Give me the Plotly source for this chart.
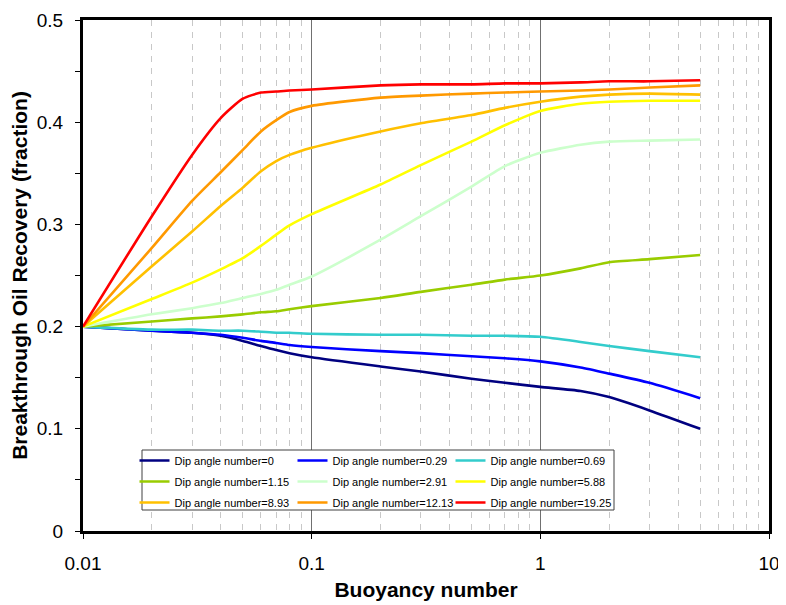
import plotly.graph_objects as go

buoyancy = [0.01, 0.02, 0.03, 0.04, 0.05, 0.06, 0.07, 0.08, 0.1, 0.2, 0.3, 0.5, 0.7, 1, 1.5, 2, 3, 5]

dip_labels = ["Dip angle number=0", "Dip angle number=0.29", "Dip angle number=0.69",
              "Dip angle number=1.15", "Dip angle number=2.91", "Dip angle number=5.88",
              "Dip angle number=8.93", "Dip angle number=12.13", "Dip angle number=19.25"]

rec_0 = [0.200, 0.196, 0.194, 0.191, 0.186, 0.181, 0.177, 0.174, 0.170, 0.161, 0.156, 0.149, 0.145, 0.141, 0.137, 0.131, 0.118, 0.100]
rec_029 = [0.200, 0.196, 0.194, 0.192, 0.189, 0.186, 0.184, 0.182, 0.180, 0.176, 0.174, 0.171, 0.169, 0.166, 0.160, 0.154, 0.145, 0.130]
rec_069 = [0.200, 0.197, 0.197, 0.196, 0.196, 0.195, 0.194, 0.194, 0.193, 0.192, 0.192, 0.191, 0.191, 0.190, 0.185, 0.181, 0.176, 0.170]
rec_115 = [0.200, 0.205, 0.208, 0.210, 0.212, 0.214, 0.215, 0.217, 0.220, 0.228, 0.234, 0.241, 0.246, 0.250, 0.257, 0.263, 0.266, 0.270]
rec_291 = [0.200, 0.212, 0.218, 0.223, 0.228, 0.232, 0.236, 0.241, 0.249, 0.285, 0.308, 0.337, 0.357, 0.370, 0.378, 0.381, 0.382, 0.383]
rec_588 = [0.200, 0.227, 0.243, 0.256, 0.267, 0.279, 0.290, 0.299, 0.310, 0.339, 0.358, 0.381, 0.397, 0.411, 0.418, 0.420, 0.421, 0.421]
rec_893 = [0.200, 0.259, 0.293, 0.318, 0.336, 0.352, 0.362, 0.368, 0.375, 0.391, 0.399, 0.407, 0.414, 0.420, 0.425, 0.427, 0.428, 0.427]
rec_1213 = [0.200, 0.277, 0.323, 0.351, 0.373, 0.391, 0.402, 0.410, 0.416, 0.424, 0.426, 0.428, 0.429, 0.430, 0.431, 0.432, 0.434, 0.436]
rec_1925 = [0.200, 0.308, 0.368, 0.404, 0.423, 0.429, 0.430, 0.431, 0.432, 0.436, 0.437, 0.437, 0.438, 0.438, 0.439, 0.440, 0.440, 0.441]

series = [rec_0, rec_029, rec_069, rec_115, rec_291, rec_588, rec_893, rec_1213, rec_1925]
colors = ["#000080", "#0000FF", "#33CCCC", "#99CC00", "#CCFFCC", "#FFFF00", "#FFC000", "#FF9900", "#FF0000"]

x_tickvals = [0.01, 0.1, 1, 10]
x_ticktext = ["0.01", "0.1", "1", "10"]
minor_multipliers = [2, 3, 4, 5, 6, 7, 8, 9]
x_minor_vals = [m * d for d in [0.01, 0.1, 1] for m in minor_multipliers]

legend_names = ["legend", "legend2", "legend3"]

fig = go.Figure()
for i, (lab, ys, col) in enumerate(zip(dip_labels, series, colors)):
    fig.add_trace(go.Scatter(
        x=buoyancy, y=ys, name=lab, mode="lines", legendgroup=lab,
        line=dict(color=col, width=2.6, shape="spline", smoothing=0.6),
        legend=legend_names[i % 3],
    ))

font_family = "Arial, Liberation Sans, sans-serif"
leg_common = dict(orientation="v", bgcolor="rgba(0,0,0,0)", borderwidth=0,
                  font=dict(family=font_family, size=11, color="black"),
                  itemwidth=30, tracegroupgap=2, xanchor="left", yanchor="top",
                  traceorder="grouped")

# page body has an 8px margin; figure is sized so the plot area lands at
# x 83..769, y 20..531 in the 786x605 window
OFF = 8
PL, PT, PR, PB = 83, 20, 769, 531
PW, PH = PR - PL, PB - PT

def px_x(p):
    return (p - PL) / PW

def px_y(p):
    return (PB - p) / PH

box_x0, box_x1 = px_x(142), px_x(614)
box_y1, box_y0 = px_y(450), px_y(510)
leg_x = px_x(134.5)
leg_y = px_y(446)

fig.update_layout(
    width=786 - OFF, height=605 - OFF,
    margin=dict(l=PL - OFF, r=786 - PR, t=PT - OFF, b=605 - PB),
    paper_bgcolor="white", plot_bgcolor="white",
    font=dict(family=font_family, size=19, color="black"),
    showlegend=True,
    legend=dict(x=leg_x, y=leg_y, **leg_common),
    legend2=dict(x=leg_x + 158 / PW, y=leg_y, **leg_common),
    legend3=dict(x=leg_x + 316 / PW, y=leg_y, **leg_common),
    shapes=[dict(type="rect", xref="paper", yref="paper",
                 x0=box_x0, x1=box_x1, y0=box_y0, y1=box_y1,
                 line=dict(color="#404040", width=1), fillcolor="white", layer="above")],
    xaxis=dict(
        type="log", range=[-2, 1], automargin=False,
        tickvals=x_tickvals, ticktext=x_ticktext,
        showgrid=True, gridcolor="#707070", gridwidth=1,
        minor=dict(tickmode="array", tickvals=x_minor_vals, showgrid=True,
                   gridcolor="#C8C8C8", griddash="6px,6px", gridwidth=1, ticks=""),
        ticks="outside", ticklen=5, tickcolor="black",
        showline=True, linewidth=3, linecolor="black", mirror=True,
        zeroline=False,
        ticklabelstandoff=8,
        title=dict(text="<b>Buoyancy number</b>", font=dict(size=21), standoff=10),
    ),
    yaxis=dict(
        range=[0, 0.5], dtick=0.1, tick0=0, automargin=False,
        showgrid=False, zeroline=False,
        minor=dict(dtick=0.05, ticks="outside", ticklen=5, tickcolor="black"),
        ticks="outside", ticklen=5, tickcolor="black",
        showline=True, linewidth=3, linecolor="black", mirror=True,
        ticklabelstandoff=8,
        title=dict(text="<b>Breakthrough Oil Recovery (fraction)</b>", font=dict(size=21), standoff=6),
    ),
)

fig.write_html("out.html")
